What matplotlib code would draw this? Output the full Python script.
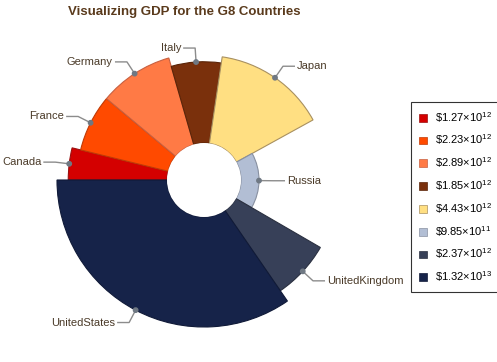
import numpy as np
import matplotlib.pyplot as plt
from matplotlib.patches import Wedge, Circle

plt.rcParams['font.family'] = ['Liberation Sans', 'DejaVu Sans']
plt.rcParams['mathtext.fontset'] = 'custom'
plt.rcParams['mathtext.rm'] = 'Liberation Sans'

countries = ['Canada', 'France', 'Germany', 'Italy', 'Japan', 'Russia',
             'UnitedKingdom', 'UnitedStates']
# sector angle ~ population (millions), sector radius ~ GDP per capita (k$)
population = [33, 63, 82, 59, 127, 142, 61, 300]
gdp_per_cap = [39.5, 36, 36, 32.5, 35, 7.2, 39, 44]
gdp_mant = ['1.27', '2.23', '2.89', '1.85', '4.43', '9.85', '2.37', '1.32']
gdp_exp = ['12', '12', '12', '12', '12', '11', '12', '13']
colors = ['#d40000', '#ff4a00', '#ff7a45', '#7a300c', '#ffdf82',
          '#b2bed4', '#374058', '#162349']
edges = ['#9a1010', '#c03a05', '#c86040', '#5a2408', '#a89060',
         '#8890a0', '#2a3040', '#101a38']

W, H = 497, 362
cx, cy = 204, H - 180
hole = 37
k = 2.5  # px per k$

fig = plt.figure(figsize=(W / 100, H / 100), dpi=100)
ax = fig.add_axes([0, 0, 1, 1])
ax.set_xlim(0, W)
ax.set_ylim(0, H)
ax.set_aspect('equal')
ax.axis('off')

pop = np.array(population, dtype=float)
spans = pop / pop.sum() * 360
start = 180.0
handles = []
for i, name in enumerate(countries):
    a1 = start - spans[i]
    r = hole + k * gdp_per_cap[i]
    w = Wedge((cx, cy), r, a1, start, width=r - hole,
              facecolor=colors[i], edgecolor=edges[i], linewidth=0.8)
    ax.add_patch(w)
    handles.append(w)

    # label with elbow line
    mid = np.deg2rad((a1 + start) / 2)
    px, py = cx + r * np.cos(mid), cy + r * np.sin(mid)
    ex, ey = cx + (r + 14) * np.cos(mid), cy + (r + 14) * np.sin(mid)
    side = 1 if np.cos(mid) >= 0 else -1
    hx = ex + side * 12
    ax.plot([px, ex, hx], [py, ey, ey], color='#8c8c8c', lw=1.0,
            solid_capstyle='butt', zorder=3)
    ax.add_patch(Circle((px, py), 2.2, color='#6f7883', zorder=4))
    ax.text(hx + side * 2, ey, name, fontsize=8, color='#4a3a28',
            ha='left' if side > 0 else 'right', va='center')
    start = a1

ax.add_patch(Circle((cx, cy), hole, facecolor='white', edgecolor='none', zorder=2))

labels = [r'\$' + m + r'$\times$10$^{' + e + '}$' for m, e in zip(gdp_mant, gdp_exp)]
leg = ax.legend(handles, labels, loc='upper left',
                bbox_to_anchor=(411 / W, 1 - 102 / H), bbox_transform=fig.transFigure,
                fontsize=8, frameon=True, fancybox=False, edgecolor='black',
                handlelength=0.7, handleheight=0.7, handletextpad=0.8,
                labelspacing=0.72, borderpad=0.7, borderaxespad=0)
leg.get_frame().set_linewidth(0.8)
for h in leg.legend_handles:
    h.set_linewidth(0.5)

fig.text(184 / W, 1 - 12 / H, 'Visualizing GDP for the G8 Countries',
         fontsize=9.5, fontweight='bold', color='#5a3a1c', ha='center', va='center')

fig.savefig('out.png', dpi=100)
